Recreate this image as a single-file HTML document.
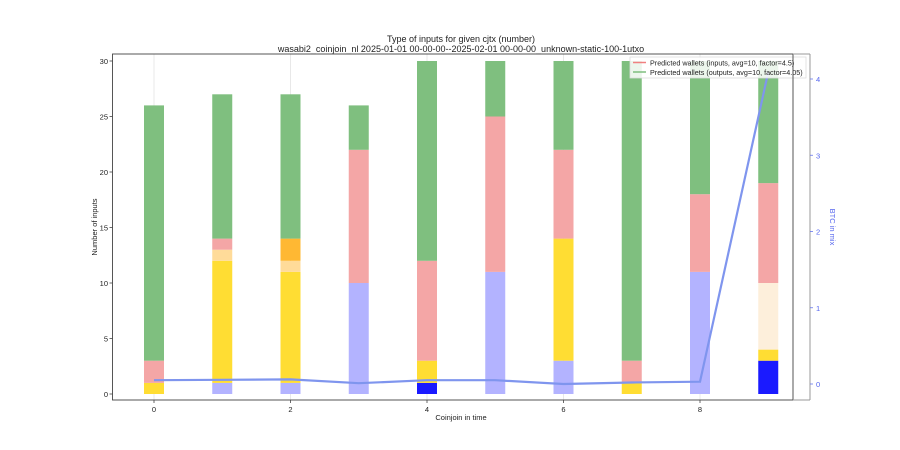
<!DOCTYPE html>
<html><head><meta charset="utf-8"><style>body{margin:0;background:#fff}svg{display:block;font-family:"Liberation Sans","DejaVu Sans",sans-serif}</style></head>
<body>
<svg width="900" height="450" viewBox="0 0 900 450">
<rect width="900" height="450" fill="#fff"/>
<text x="461" y="42" font-size="9" text-anchor="middle" fill="#222">Type of inputs for given cjtx (number)</text>
<text x="461" y="52" font-size="9" text-anchor="middle" fill="#222">wasabi2_coinjoin_nl 2025-01-01 00-00-00--2025-02-01 00-00-00_unknown-static-100-1utxo</text>
<g stroke="#e3e3e3" stroke-width="0.8">
<line x1="154" y1="54" x2="154" y2="400"/><line x1="290.5" y1="54" x2="290.5" y2="400"/><line x1="427" y1="54" x2="427" y2="400"/><line x1="563.5" y1="54" x2="563.5" y2="400"/><line x1="700" y1="54" x2="700" y2="400"/>
</g>
<g>
<rect x="144" y="382.9" width="20" height="11.1" fill="#ffdd33"/><rect x="144" y="360.7" width="20" height="22.2" fill="#f4a6a6"/><rect x="144" y="105.4" width="20" height="255.3" fill="#7fbf7f"/>
<rect x="212.25" y="382.9" width="20" height="11.1" fill="#b3b3ff"/><rect x="212.25" y="260.8" width="20" height="122.1" fill="#ffdd33"/><rect x="212.25" y="249.7" width="20" height="11.1" fill="#ffdb99"/><rect x="212.25" y="238.6" width="20" height="11.1" fill="#f4a6a6"/><rect x="212.25" y="94.3" width="20" height="144.3" fill="#7fbf7f"/>
<rect x="280.5" y="382.9" width="20" height="11.1" fill="#b3b3ff"/><rect x="280.5" y="271.9" width="20" height="111" fill="#ffdd33"/><rect x="280.5" y="260.8" width="20" height="11.1" fill="#ffdb99"/><rect x="280.5" y="238.6" width="20" height="22.2" fill="#ffb833"/><rect x="280.5" y="94.3" width="20" height="144.3" fill="#7fbf7f"/>
<rect x="348.75" y="283" width="20" height="111" fill="#b3b3ff"/><rect x="348.75" y="149.8" width="20" height="133.2" fill="#f4a6a6"/><rect x="348.75" y="105.4" width="20" height="44.4" fill="#7fbf7f"/>
<rect x="417" y="382.9" width="20" height="11.1" fill="#1a1aff"/><rect x="417" y="360.7" width="20" height="22.2" fill="#ffdd33"/><rect x="417" y="260.8" width="20" height="99.9" fill="#f4a6a6"/><rect x="417" y="61" width="20" height="199.8" fill="#7fbf7f"/>
<rect x="485.25" y="271.9" width="20" height="122.1" fill="#b3b3ff"/><rect x="485.25" y="116.5" width="20" height="155.4" fill="#f4a6a6"/><rect x="485.25" y="61" width="20" height="55.5" fill="#7fbf7f"/>
<rect x="553.5" y="360.7" width="20" height="33.3" fill="#b3b3ff"/><rect x="553.5" y="238.6" width="20" height="122.1" fill="#ffdd33"/><rect x="553.5" y="149.8" width="20" height="88.8" fill="#f4a6a6"/><rect x="553.5" y="61" width="20" height="88.8" fill="#7fbf7f"/>
<rect x="621.75" y="382.9" width="20" height="11.1" fill="#ffdd33"/><rect x="621.75" y="360.7" width="20" height="22.2" fill="#f4a6a6"/><rect x="621.75" y="61" width="20" height="299.7" fill="#7fbf7f"/>
<rect x="690" y="271.9" width="20" height="122.1" fill="#b3b3ff"/><rect x="690" y="194.2" width="20" height="77.7" fill="#f4a6a6"/><rect x="690" y="61" width="20" height="133.2" fill="#7fbf7f"/>
<rect x="758.25" y="360.7" width="20" height="33.3" fill="#1a1aff"/><rect x="758.25" y="349.6" width="20" height="11.1" fill="#ffdd33"/><rect x="758.25" y="283" width="20" height="66.6" fill="#fdefdb"/><rect x="758.25" y="183.1" width="20" height="99.9" fill="#f4a6a6"/><rect x="758.25" y="61" width="20" height="122.1" fill="#7fbf7f"/>
</g>
<polyline points="154,380.2 222.25,379.8 290.5,379.4 358.75,383.2 427,380.2 495.25,380.2 563.5,384 631.75,382.5 700,381.7 768.25,72" fill="none" stroke="#7f95ee" stroke-width="2.2"/>
<rect x="630" y="57" width="176" height="21" fill="#fff" fill-opacity="0.85" stroke="#ddd" stroke-width="0.8"/>
<line x1="633" y1="62.5" x2="646" y2="62.5" stroke="#f08080" stroke-width="1.5"/>
<line x1="633" y1="72" x2="646" y2="72" stroke="#7fbf7f" stroke-width="1.5"/>
<text x="650" y="65.5" font-size="7.2" fill="#222">Predicted wallets (inputs, avg=10, factor=4.5)</text>
<text x="650" y="75" font-size="7.2" fill="#222">Predicted wallets (outputs, avg=10, factor=4.05)</text>
<rect x="112.5" y="54" width="680.5" height="346" fill="none" stroke="#444" stroke-width="0.9"/>
<line x1="810" y1="54" x2="810" y2="400" stroke="#999" stroke-width="1"/>
<line x1="793" y1="54" x2="810" y2="54" stroke="#999" stroke-width="1"/>
<line x1="793" y1="400" x2="810" y2="400" stroke="#999" stroke-width="1"/>
<g font-size="7.5" fill="#222" text-anchor="end">
<text x="108" y="397">0</text><text x="108" y="341.5">5</text><text x="108" y="286">10</text><text x="108" y="230.5">15</text><text x="108" y="175">20</text><text x="108" y="119.5">25</text><text x="108" y="64">30</text>
</g>
<g stroke="#444" stroke-width="0.8">
<line x1="109.5" y1="394" x2="112.5" y2="394"/><line x1="109.5" y1="338.5" x2="112.5" y2="338.5"/><line x1="109.5" y1="283" x2="112.5" y2="283"/><line x1="109.5" y1="227.5" x2="112.5" y2="227.5"/><line x1="109.5" y1="172" x2="112.5" y2="172"/><line x1="109.5" y1="116.5" x2="112.5" y2="116.5"/><line x1="109.5" y1="61" x2="112.5" y2="61"/>
<line x1="154" y1="400" x2="154" y2="403"/><line x1="290.5" y1="400" x2="290.5" y2="403"/><line x1="427" y1="400" x2="427" y2="403"/><line x1="563.5" y1="400" x2="563.5" y2="403"/><line x1="700" y1="400" x2="700" y2="403"/>
</g>
<g font-size="7.5" fill="#222" text-anchor="middle">
<text x="154" y="412">0</text><text x="290.5" y="412">2</text><text x="427" y="412">4</text><text x="563.5" y="412">6</text><text x="700" y="412">8</text>
<text x="461" y="420">Coinjoin in time</text>
</g>
<text transform="translate(97,227) rotate(-90)" font-size="7.5" fill="#222" text-anchor="middle">Number of inputs</text>
<g stroke="#6677ee" stroke-width="0.8">
<line x1="810" y1="384" x2="813" y2="384"/><line x1="810" y1="307.75" x2="813" y2="307.75"/><line x1="810" y1="231.5" x2="813" y2="231.5"/><line x1="810" y1="155.25" x2="813" y2="155.25"/><line x1="810" y1="79" x2="813" y2="79"/>
</g>
<g font-size="7.5" fill="#5566ee">
<text x="816" y="387">0</text><text x="816" y="310.75">1</text><text x="816" y="234.5">2</text><text x="816" y="158.25">3</text><text x="816" y="82">4</text>
</g>
<text transform="translate(830,227) rotate(90)" font-size="7.5" fill="#5566ee" text-anchor="middle">BTC in mix</text>
</svg>
</body></html>
